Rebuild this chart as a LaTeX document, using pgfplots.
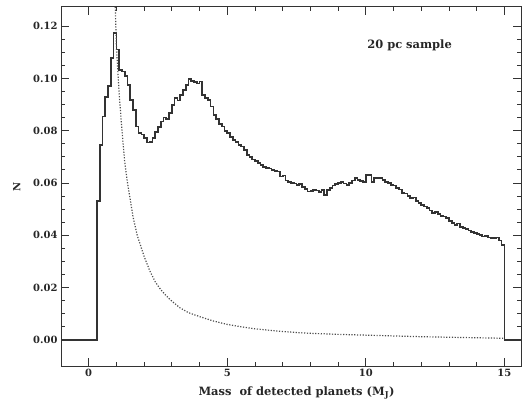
\documentclass[border=0pt]{standalone}
\usepackage{fontspec}
\setmainfont{DejaVu Serif}
\usepackage{pgfplots}
\pgfplotsset{compat=1.18}
\begin{document}
\begin{tikzpicture}
\begin{axis}[
  scale only axis,
  width=460bp, height=359bp,
  xmin=-1, xmax=15.6,
  ymin=-0.01, ymax=0.1273,
  xtick={0,5,10,15},
  ytick={0,0.02,0.04,0.06,0.08,0.10,0.12},
  minor x tick num=4,
  minor y tick num=3,
  tick align=inside,
  major tick length=8bp,
  minor tick length=4bp,
  axis line style={black!80, line width=1pt},
  every tick/.style={black!80, line width=0.8pt},
  /pgf/number format/assume math mode=true,
  yticklabel style={/pgf/number format/fixed, /pgf/number format/fixed zerofill, /pgf/number format/precision=2},
  scaled y ticks=false,
  tick label style={font=\bfseries\fontsize{10}{12}\selectfont, text=black!85},
  xlabel={Mass\ \ of detected planets (M\textsubscript{J})},
  ylabel={N},
  every axis y label/.style={at={(axis description cs:-0.096,0.5)}, rotate=90, anchor=center, font=\bfseries\fontsize{10}{12}\selectfont, text=black!85},
  every axis x label/.style={at={(axis description cs:0.512,-0.075)}, anchor=center, font=\bfseries\fontsize{11.5}{13}\selectfont, text=black!85},
]
\addplot[const plot, black!80, line width=1.7pt] coordinates {
(-1,0) (0.3,0.053) (0.4,0.0746) (0.5,0.0854) (0.6,0.093) (0.7,0.0971) (0.8,0.1077) (0.9,0.1173)
(1.0,0.111) (1.1,0.1033) (1.2,0.1026) (1.3,0.101) (1.4,0.0975) (1.5,0.0918) (1.6,0.088) (1.7,0.0816)
(1.8,0.079) (1.9,0.0785) (2.0,0.0772) (2.1,0.0755) (2.2,0.0757) (2.3,0.0772) (2.4,0.0795) (2.5,0.0815)
(2.6,0.0835) (2.7,0.0850) (2.8,0.0845) (2.9,0.0868) (3.0,0.0899) (3.1,0.0924) (3.2,0.0915) (3.3,0.0937)
(3.4,0.0956) (3.5,0.0975) (3.6,0.0997) (3.7,0.0990) (3.8,0.0985) (3.9,0.0980) (4.0,0.0988) (4.1,0.0937)
(4.2,0.0925) (4.3,0.0918) (4.4,0.0892) (4.5,0.0860) (4.6,0.0845) (4.7,0.0825) (4.8,0.0816) (4.9,0.0800)
(5.0,0.0790) (5.1,0.0775) (5.2,0.0765) (5.3,0.0758) (5.4,0.0745) (5.5,0.0739) (5.6,0.0725) (5.7,0.0707)
(5.8,0.0700) (5.9,0.0690) (6.0,0.0685) (6.1,0.0676) (6.2,0.0670) (6.3,0.0662) (6.4,0.0657) (6.5,0.0655)
(6.6,0.0650) (6.7,0.0646) (6.8,0.0644) (6.9,0.0625) (7.0,0.0628) (7.1,0.0610) (7.2,0.0605) (7.3,0.0600)
(7.4,0.0598) (7.5,0.0593) (7.6,0.0595) (7.7,0.0585) (7.8,0.0578) (7.9,0.0567) (8.0,0.0570) (8.1,0.0572)
(8.2,0.0571) (8.3,0.0565) (8.4,0.0572) (8.5,0.0555) (8.6,0.0574) (8.7,0.0580) (8.8,0.0590) (8.9,0.0595)
(9.0,0.0599) (9.1,0.0605) (9.2,0.0598) (9.3,0.0593) (9.4,0.0600) (9.5,0.0610) (9.6,0.0618) (9.7,0.0612)
(9.8,0.0608) (9.9,0.0605) (10.0,0.0630) (10.1,0.0631) (10.2,0.0605) (10.3,0.0618) (10.4,0.0620) (10.5,0.0618)
(10.6,0.0612) (10.7,0.0605) (10.8,0.0600) (10.9,0.0593) (11.0,0.0590) (11.1,0.0580) (11.2,0.0575) (11.3,0.0562)
(11.4,0.0560) (11.5,0.0550) (11.6,0.0542) (11.7,0.0545) (11.8,0.0530) (11.9,0.0523) (12.0,0.0515) (12.1,0.0510)
(12.2,0.0505) (12.3,0.0495) (12.4,0.0484) (12.5,0.0488) (12.6,0.0480) (12.7,0.0475) (12.8,0.0472) (12.9,0.0465)
(13.0,0.0455) (13.1,0.0448) (13.2,0.0440) (13.3,0.0445) (13.4,0.0432) (13.5,0.0427) (13.6,0.0425) (13.7,0.0418)
(13.8,0.0412) (13.9,0.0408) (14.0,0.0405) (14.1,0.0400) (14.2,0.0395) (14.3,0.0397) (14.4,0.0392) (14.5,0.0390)
(14.6,0.0389) (14.7,0.0392) (14.8,0.0380) (14.9,0.0362) (15.0,0) (15.6,0)
};
\addplot[black!70, line width=1.2pt, dash pattern=on 1.2pt off 1.6pt] coordinates {
(0.93,0.138) (1.0,0.112) (1.1,0.094) (1.2,0.080) (1.3,0.068) (1.4,0.060) (1.5,0.0535) (1.6,0.047)
(1.75,0.040) (2.0,0.0319) (2.2,0.0265) (2.4,0.0222) (2.6,0.0192) (2.8,0.0168) (3.0,0.0148) (3.3,0.0122)
(3.6,0.0104) (4.0,0.0089) (4.5,0.0072) (5.0,0.0059) (5.5,0.0050) (6.0,0.0042) (6.5,0.0037) (7.0,0.0032)
(7.5,0.0028) (8.0,0.0025) (9.0,0.0021) (10.0,0.0018) (11.0,0.0015) (12.0,0.0012) (13.0,0.0010) (14.0,0.0008)
(15.0,0.0006)
};
\node[font=\bfseries\fontsize{11.5}{13}\selectfont, text=black!85] at (axis cs:11.58,0.1128) {20 pc sample};
\end{axis}
\pgfresetboundingbox
\path (current axis.south west) ++(-61bp,-40bp) coordinate (bl);
\path (current axis.north east) ++(4bp,7bp) coordinate (tr);
\path (bl) rectangle (tr);
\end{tikzpicture}
\end{document}
